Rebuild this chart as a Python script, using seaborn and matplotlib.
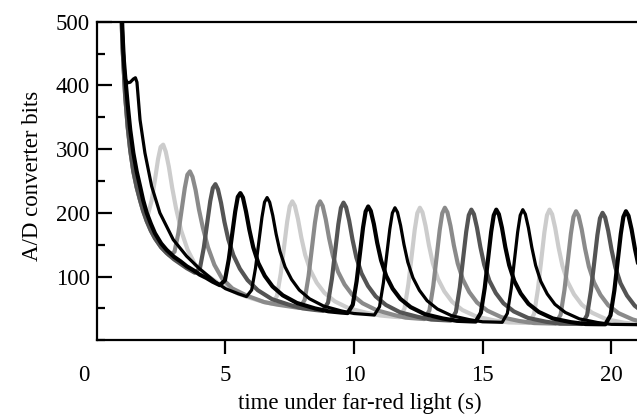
import matplotlib
matplotlib.use("Agg")
import matplotlib.pyplot as plt
import seaborn as sns
from matplotlib.transforms import ScaledTranslation
from matplotlib.ticker import MultipleLocator

# ---- data (time in s, A/D converter bits) ----
# thin black trace (first flash during the initial decay)
A_x = [0.95, 1.0, 1.05, 1.10, 1.2, 1.3, 1.42, 1.5, 1.56, 1.68, 1.87, 2.13, 2.45, 2.97, 3.49, 4.0, 4.3, 4.6, 5.0, 5.5,
       5.82, 6.02, 6.17, 6.30, 6.42, 6.52, 6.62, 6.72, 6.84, 6.97, 7.12, 7.32, 7.57, 7.87, 8.27, 8.82, 9.52, 10.0, 10.5,
       10.79, 10.99, 11.14, 11.27, 11.39, 11.49, 11.59, 11.69, 11.81, 11.94, 12.09, 12.29, 12.54, 12.84, 13.24, 13.79,
       14.49, 15.0, 15.5, 15.76, 15.96, 16.11, 16.24, 16.36, 16.46, 16.56, 16.66, 16.78, 16.91, 17.06, 17.26, 17.51,
       17.81, 18.21, 18.76, 19.46, 20.0, 21.0]
A_y = [540, 480, 440, 410, 404, 405, 410, 412, 405, 346, 294, 242, 200, 158, 132, 112, 102, 92, 81, 73,
       68.6, 78.9, 113.5, 154.9, 193, 216.8, 224, 216.6, 195.9, 166.8, 139.5, 115, 95.5, 78.9, 65.1, 53.6, 45.9, 42, 40.5,
       39.6, 52.7, 89.9, 133.9, 174.4, 199.7, 208, 200.8, 180, 150.5, 122.6, 98, 78.4, 62.1, 49.1, 38.6,
       32.3, 29, 28.5, 28.2, 42.2, 81.2, 127.3, 169.7, 196.2, 205, 197.8, 176.4, 146.1, 117.5, 92.4, 72.7,
       56.4, 43.7, 33.6, 27.9, 25, 24.5]

# light gray trace
B_x = [0.95, 1.0, 1.1, 1.2, 1.3, 1.42, 1.55, 1.68, 1.78, 1.98, 2.13, 2.26, 2.38, 2.48, 2.58, 2.68, 2.80, 2.93, 3.08,
       3.28, 3.53, 3.83, 4.23, 4.78, 5.5, 6.0, 6.5, 6.80, 7.00, 7.15, 7.28, 7.40, 7.50, 7.60, 7.70, 7.82, 7.95, 8.10,
       8.30, 8.55, 8.85, 9.25, 9.80, 10.50, 11.0, 11.5, 11.76, 11.96, 12.11, 12.24, 12.36, 12.46, 12.56, 12.66, 12.78,
       12.91, 13.06, 13.26, 13.51, 13.81, 14.21, 14.76, 15.46, 16.0, 16.5, 16.80, 17.00, 17.15, 17.28, 17.40, 17.50,
       17.60, 17.70, 17.82, 17.95, 18.10, 18.30, 18.55, 18.85, 19.25, 19.80, 20.50, 21.1]
B_y = [520, 460, 385, 335, 298, 265, 240, 220, 206, 196, 219.2, 251.8, 284.2, 303.3, 307, 295.9, 272.3, 239.4, 207,
       172, 142, 118.1, 103.3, 88.1, 73, 66, 60, 57.6, 69.2, 104.7, 146.9, 186.1, 210.3, 218, 210.8, 190.2, 161.3, 134,
       109.8, 90.3, 74.3, 61.1, 50.1, 43, 39, 37, 36.2, 49.5, 87.5, 132.4, 173.8, 199.6, 208, 200.7, 179.5,
       149.5, 121.2, 96.5, 76.8, 60.5, 47.5, 37.1, 31.1, 28, 27.5, 27.2, 41.3, 80.5, 126.7, 169.5, 196.2,
       205, 197.8, 176.2, 145.8, 117, 91.9, 72.2, 56, 43.3, 33.1, 27.5, 25]

# mid gray trace
C_x = [0.95, 1.0, 1.1, 1.2, 1.3, 1.42, 1.55, 1.68, 1.8, 1.94, 2.1, 2.26, 2.5, 2.82, 3.02, 3.17, 3.30, 3.42, 3.52,
       3.62, 3.72, 3.84, 3.97, 4.12, 4.32, 4.57, 4.87, 5.27, 5.82, 6.5, 7.0, 7.5, 7.88, 8.08, 8.23, 8.36, 8.48, 8.58,
       8.68, 8.78, 8.90, 9.03, 9.18, 9.38, 9.63, 9.93, 10.33, 10.88, 11.58, 12.0, 12.5, 12.73, 12.93, 13.08, 13.21,
       13.33, 13.43, 13.53, 13.63, 13.75, 13.88, 14.03, 14.23, 14.48, 14.78, 15.18, 15.73, 16.43, 17.0, 17.5, 17.83,
       18.03, 18.18, 18.31, 18.43, 18.53, 18.63, 18.73, 18.85, 18.98, 19.13, 19.33, 19.58, 19.88, 20.28, 20.83, 21.2]
C_y = [520, 460, 385, 335, 298, 265, 240, 220, 203, 187, 172, 160, 146, 133.5, 138.9, 168.5, 205.4, 239, 259.8,
       265, 256.5, 235.7, 205.4, 177, 146.1, 118.4, 96.9, 81.3, 70.2, 60, 56, 53, 50.7, 63.3, 100.3, 144.1, 184.6, 209.8,
       218, 210.8, 189.7, 160.1, 132.1, 107.3, 87.6, 71.3, 58.1, 47.1, 39.4, 35.5, 34, 33.3, 46.8, 85.3, 130.9,
       173.1, 199.4, 208, 200.7, 179.3, 149, 120.5, 95.4, 75.6, 59.3, 46.5, 36.2, 30.2, 27, 26.5, 26.2,
       40.1, 78.9, 124.8, 167.2, 193.7, 202.5, 195.3, 174.1, 144, 115.6, 90.7, 71.2, 55, 42.6, 32.7, 28.5]

# dark gray trace
D_x = [0.95, 1.0, 1.1, 1.2, 1.3, 1.42, 1.55, 1.68, 1.8, 1.94, 2.1, 2.26, 2.5, 2.71, 3.0, 3.25, 3.5, 3.81, 4.01,
       4.16, 4.29, 4.41, 4.51, 4.61, 4.71, 4.83, 4.96, 5.11, 5.31, 5.56, 5.86, 6.26, 6.81, 7.51, 8.0, 8.5, 8.79, 8.99,
       9.14, 9.27, 9.39, 9.49, 9.59, 9.69, 9.81, 9.94, 10.09, 10.29, 10.54, 10.84, 11.24, 11.79, 12.49, 13.0, 13.5,
       13.76, 13.96, 14.11, 14.24, 14.36, 14.46, 14.56, 14.66, 14.78, 14.91, 15.06, 15.26, 15.51, 15.81, 16.21, 16.76,
       17.46, 18.0, 18.5, 18.86, 19.06, 19.21, 19.34, 19.46, 19.56, 19.66, 19.76, 19.88, 20.01, 20.16, 20.36, 20.61,
       20.91, 21.31]
D_y = [520, 460, 385, 335, 298, 265, 240, 220, 203, 187, 172, 160, 146, 137, 127, 120, 113, 106, 113.4,
       145.5, 183.8, 218.5, 239, 245, 236.8, 215.5, 186, 158.5, 133.4, 112.3, 94.4, 78.5, 64.5, 55.3, 50, 47.5, 46.3, 59.3,
       96.8, 141.2, 182.2, 207.8, 216, 208.8, 187.8, 158, 129.8, 105, 85.3, 68.9, 55.4, 43.9, 36.6, 32.5, 31.5,
       31, 44.6, 82.9, 128.3, 170.2, 196.3, 205, 197.9, 176.6, 146.6, 118.4, 93.6, 74.1, 58, 45.3, 35.1,
       29.1, 26, 25.8, 25.6, 39.5, 77.9, 123.2, 165.1, 191.4, 200, 193, 171.9, 142.2, 114.1, 89.5, 70.2,
       54.3, 41.9]

# thick black trace
E_x = [0.95, 1.0, 1.05, 1.1, 1.2, 1.3, 1.42, 1.55, 1.68, 1.8, 1.94, 2.1, 2.26, 2.5, 2.71, 3.0, 3.25, 3.5, 3.75, 4.0,
       4.25, 4.5, 4.78, 4.98, 5.13, 5.26, 5.38, 5.48, 5.58, 5.68, 5.80, 5.93, 6.08, 6.28, 6.53, 6.83, 7.23, 7.78, 8.48,
       9.0, 9.5, 9.75, 9.95, 10.10, 10.23, 10.35, 10.45, 10.55, 10.65, 10.77, 10.90, 11.05, 11.25, 11.50, 11.80, 12.20,
       12.75, 13.45, 14.0, 14.5, 14.73, 14.93, 15.08, 15.21, 15.33, 15.43, 15.53, 15.63, 15.75, 15.88, 16.03, 16.23,
       16.48, 16.78, 17.18, 17.73, 18.43, 19.0, 19.5, 19.77, 19.97, 20.12, 20.25, 20.37, 20.47, 20.57, 20.67, 20.79,
       20.92, 21.07, 21.27]
E_y = [540, 480, 440, 415, 370, 330, 294, 265, 242, 220, 200, 183, 168, 152, 142, 131, 124, 116, 110, 103,
       98, 92, 86.5, 94, 127, 166, 202, 225, 231, 224, 202, 173.5, 146, 121, 101, 84.5, 70.5, 58.5, 50,
       45.5, 43.5, 42.7, 55.7, 92.7, 136.5, 177, 202, 210, 203, 182.5, 153, 125.5, 101, 81, 65, 52,
       41, 34.2, 30.5, 29.7, 29.4, 43.2, 81.9, 127.6, 170, 196, 205, 197.8, 176.6, 146.4, 118, 93,
       73.4, 57.2, 44.5, 34.2, 28.4, 25.5, 25.2, 25.1, 39.2, 78.2, 124.4, 167, 193.6, 202.5, 195.4, 174,
       143.6, 115, 90]

x_ticks = [0, 5, 10, 15, 20]
y_ticks = [100, 200, 300, 400, 500]
x_label = "time under far-red light (s)"
y_label = "A/D converter bits"

# ---- styling ----
sns.set_theme(style="ticks")
plt.rcParams['font.family'] = ['Liberation Serif', 'DejaVu Serif']
FS = 16.5

fig = plt.figure(figsize=(6.37, 4.17), dpi=100)
ax = fig.add_axes([0.152, 0.184, 0.848, 0.764])

traces = [
    (B_x, B_y, '#cccccc', 3.0),
    (C_x, C_y, '#8a8a8a', 3.0),
    (D_x, D_y, '#545454', 3.0),
    (A_x, A_y, '#000000', 2.3),
    (E_x, E_y, '#000000', 3.0),
]
for xs, ys, col, lw in traces:
    sns.lineplot(x=xs, y=ys, ax=ax, color=col, linewidth=lw, sort=False, estimator=None)

ax.set_xlim(0, 21)
ax.set_ylim(0, 500)
ax.set_xticks(x_ticks)
ax.set_xticklabels([str(v) for v in x_ticks])
ax.set_yticks(y_ticks)
ax.set_yticklabels([str(v) for v in y_ticks])
ax.yaxis.set_minor_locator(MultipleLocator(50))

ax.tick_params(axis='y', which='major', direction='in', length=11, width=1.6, pad=5,
               labelsize=FS, colors='black')
ax.tick_params(axis='y', which='minor', direction='in', length=6, width=1.6, colors='black')
ax.tick_params(axis='x', which='major', direction='out', length=10, width=1.6, pad=8,
               labelsize=FS, colors='black')
ax.xaxis.get_major_ticks()[0].tick1line.set_visible(False)

for side in ['left', 'bottom', 'top']:
    ax.spines[side].set_visible(True)
    ax.spines[side].set_linewidth(1.6)
    ax.spines[side].set_color('black')
ax.spines['right'].set_visible(False)

# shift the "0" label slightly left as in the reference
lab0 = ax.get_xticklabels()[0]
lab0.set_transform(lab0.get_transform() + ScaledTranslation(-13 / 100, 0, fig.dpi_scale_trans))

ax.set_xlabel(x_label, fontsize=FS, color='black')
ax.set_ylabel(y_label, fontsize=FS, color='black')
ax.xaxis.set_label_coords(0.487, -0.165)
ax.yaxis.set_label_coords(-0.1, 0.515)

fig.savefig("out.png", dpi=100)
